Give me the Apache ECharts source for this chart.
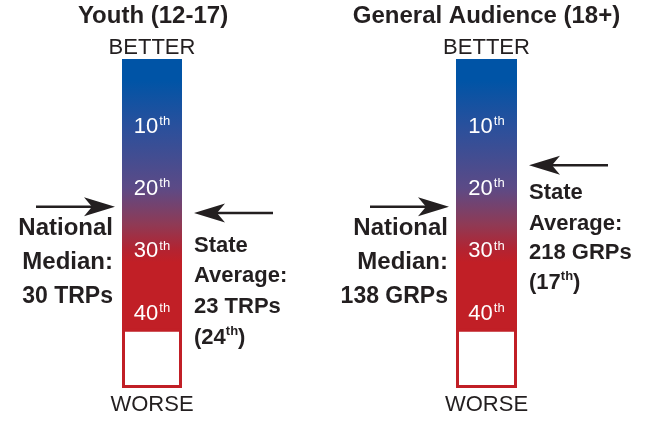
<!DOCTYPE html>
<html><head><meta charset="utf-8">
<script src="https://cdn.jsdelivr.net/npm/echarts@6/dist/echarts.min.js"></script>
<style>html,body{margin:0;padding:0;background:#fff}#c{width:645px;height:421px}</style>
</head><body><div id="c"></div>
<script>
// ---- data ----
const panelTitles = ['Youth (12-17)', 'General Audience (18+)'];
const rankTicks = [10, 20, 30, 40];
const scaleTop = -1;
const scaleBottom = 52;
const filledEnd = 42.7;
const nationalMedianPos = [22.8, 22.8];
const stateAvgPos = [23.8, 16.1];
const nationalValues = ['30 TRPs', '138 GRPs'];
const stateValues = ['23 TRPs', '218 GRPs'];
const stateRanks = [24, 17];

// ---- style ----
const TXT = '#231f20';
const FONT = '"Liberation Sans", Arial, sans-serif';
const BLUE = '#0054a6', RED = '#c11f26';

const chart = echarts.init(document.getElementById('c'), null, {renderer: 'canvas'});

const grids = [
  {left: 122, width: 60, top: 59, height: 329},
  {left: 456, width: 61, top: 59, height: 329}
];

function barSeries(gi) {
  return {
    type: 'custom', xAxisIndex: gi, yAxisIndex: gi, silent: true,
    data: [[scaleTop, filledEnd, 0], [filledEnd, scaleBottom, 1]],
    renderItem: function (params, api) {
      const a = api.coord([0, api.value(0)]);
      const b = api.coord([1, api.value(1)]);
      const kind = api.value(2);
      if (kind === 0) {
        return {
          type: 'rect',
          shape: {x: a[0], y: a[1], width: b[0] - a[0], height: b[1] - a[1]},
          style: {
            fill: new echarts.graphic.LinearGradient(0, 0, 0, 1, [
              {offset: 0, color: BLUE},
              {offset: 0.08, color: BLUE},
              {offset: 0.25, color: '#2a509c'},
              {offset: 0.476, color: '#5c4a86'},
              {offset: 0.61, color: '#8f3a55'},
              {offset: 0.70, color: '#b22432'},
              {offset: 0.75, color: RED},
              {offset: 1, color: RED}
            ])
          }
        };
      }
      return {
        type: 'rect',
        shape: {x: a[0] + 1.5, y: a[1], width: b[0] - a[0] - 3, height: b[1] - a[1] - 1.5},
        style: {fill: '#fff', stroke: RED, lineWidth: 3}
      };
    }
  };
}

function tickSeries(gi) {
  return {
    type: 'custom', xAxisIndex: gi, yAxisIndex: gi, silent: true,
    data: rankTicks.map(r => [0.5, r]),
    renderItem: function (params, api) {
      const p = api.coord([api.value(0), api.value(1)]);
      return {
        type: 'text',
        x: p[0], y: p[1],
        style: {
          text: '{n|' + api.value(1) + '}{s|th}',
          align: 'center', verticalAlign: 'middle',
          rich: {
            n: {fontSize: 22, fontFamily: FONT, fill: '#fff', color: '#fff', lineHeight: 24},
            s: {fontSize: 13, fontFamily: FONT, fill: '#fff', color: '#fff', verticalAlign: 'top', lineHeight: 24, padding: [0, 0, 12, 1]}
          }
        }
      };
    }
  };
}

function arrowSeries(gi) {
  return {
    type: 'custom', xAxisIndex: gi, yAxisIndex: gi, silent: true,
    data: [[0, nationalMedianPos[gi]], [1, stateAvgPos[gi]]],
    renderItem: function (params, api) {
      const side = api.value(0);
      const p = api.coord([side, api.value(1)]);
      const dir = side === 0 ? 1 : -1;
      const gap = side === 0 ? 7 : 12;
      const tip = p[0] - dir * gap;
      const tail = tip - dir * 79;
      const y = p[1];
      return {
        type: 'group',
        children: [
          {type: 'line', shape: {x1: tail, y1: y, x2: tip - dir * 20, y2: y},
           style: {stroke: TXT, lineWidth: 2.5}},
          {type: 'polygon', shape: {points: [
            [tip, y], [tip - dir * 31, y - 9.5], [tip - dir * 23, y], [tip - dir * 31, y + 9.5]
          ]}, style: {fill: TXT}}
        ]
      };
    }
  };
}

function txt(x, y, text, align, size, weight, rich) {
  return {
    type: 'text', x: x, y: y,
    style: {
      text: text, align: align, verticalAlign: 'middle',
      fontSize: size, fontWeight: weight, fontFamily: FONT, fill: TXT, rich: rich
    }
  };
}

const supRich = {
  b: {fontSize: 22, fontWeight: 'bold', fontFamily: FONT, fill: TXT, color: TXT, lineHeight: 26},
  s: {fontSize: 13, fontWeight: 'bold', fontFamily: FONT, fill: TXT, color: TXT, verticalAlign: 'top', lineHeight: 26, padding: [0, 0, 12, 0]}
};

const graphics = [
  txt(153, 16.5, panelTitles[0], 'center', 24, 'bold'),
  txt(486.5, 16.5, panelTitles[1], 'center', 24, 'bold'),
  txt(152, 47.5, 'BETTER', 'center', 22, 'normal'),
  txt(486.5, 47.5, 'BETTER', 'center', 22, 'normal'),
  txt(152, 405, 'WORSE', 'center', 22, 'normal'),
  txt(486.5, 405, 'WORSE', 'center', 22, 'normal'),
  // left national
  txt(113, 228, 'National', 'right', 24, 'bold'),
  txt(113, 262, 'Median:', 'right', 24, 'bold'),
  txt(113, 297, nationalValues[0], 'right', 23, 'bold'),
  // right national
  txt(448, 228, 'National', 'right', 24, 'bold'),
  txt(448, 262, 'Median:', 'right', 24, 'bold'),
  txt(448, 297, nationalValues[1], 'right', 23, 'bold'),
  // left state
  txt(194, 246, 'State', 'left', 22, 'bold'),
  txt(194, 276, 'Average:', 'left', 22, 'bold'),
  txt(194, 307, stateValues[0], 'left', 22, 'bold'),
  txt(194, 338, '{b|(' + stateRanks[0] + '}{s|th}{b|)}', 'left', 22, 'bold', supRich),
  // right state
  txt(529, 193, 'State', 'left', 22, 'bold'),
  txt(529, 224, 'Average:', 'left', 22, 'bold'),
  txt(529, 253, stateValues[1], 'left', 22, 'bold'),
  txt(529, 283, '{b|(' + stateRanks[1] + '}{s|th}{b|)}', 'left', 22, 'bold', supRich)
];

chart.setOption({
  animation: false,
  backgroundColor: '#fff',
  grid: grids,
  xAxis: grids.map((g, i) => ({type: 'value', gridIndex: i, min: 0, max: 1, show: false})),
  yAxis: grids.map((g, i) => ({type: 'value', gridIndex: i, min: scaleTop, max: scaleBottom, inverse: true, show: false})),
  series: [barSeries(0), barSeries(1), tickSeries(0), tickSeries(1), arrowSeries(0), arrowSeries(1)],
  graphic: graphics
});
</script>
</body></html>
